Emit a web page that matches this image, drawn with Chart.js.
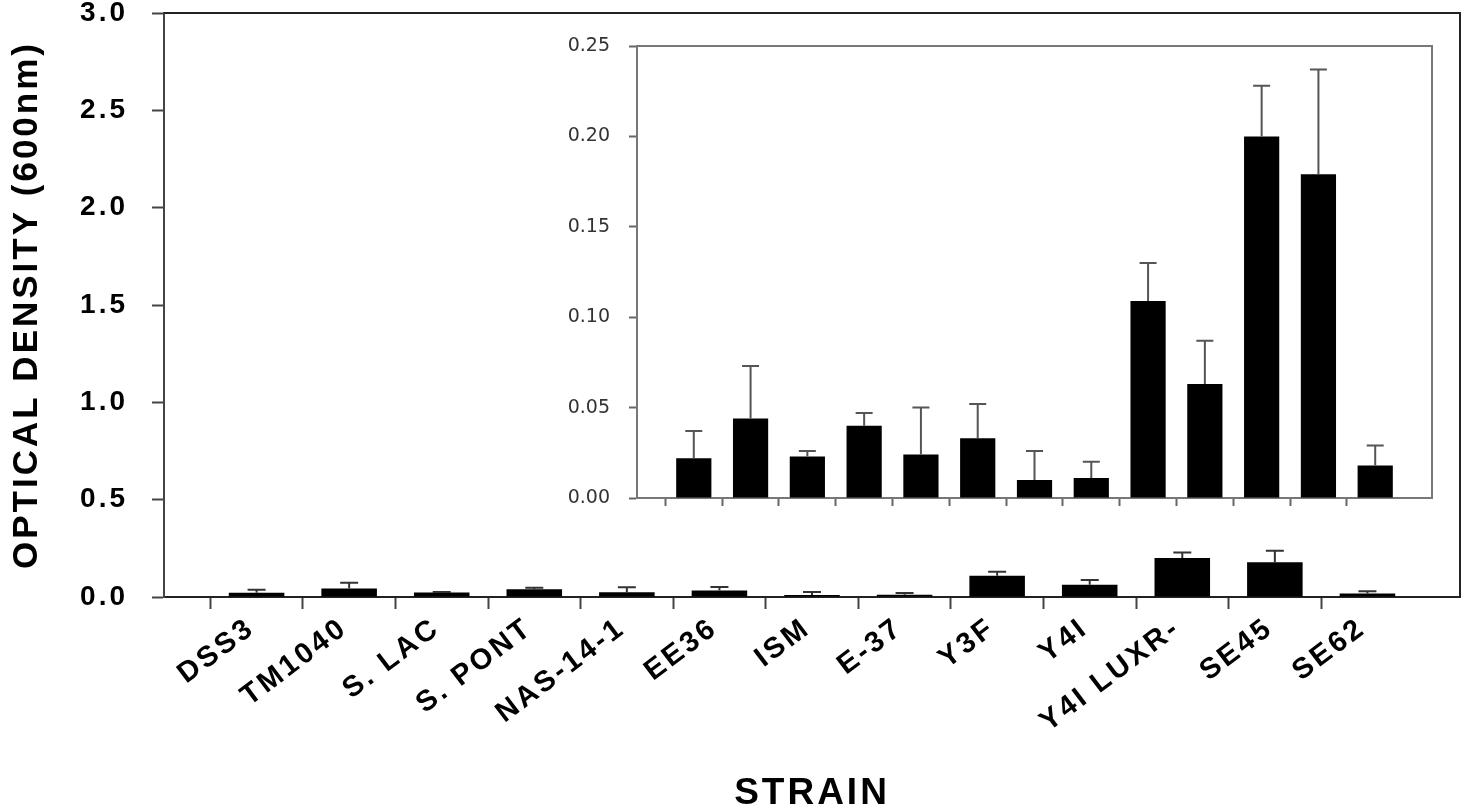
<!DOCTYPE html>
<html>
<head>
<meta charset="utf-8">
<script src="https://cdn.jsdelivr.net/npm/chart.js@4.4.0/dist/chart.umd.min.js"></script>
<style>
  body { margin: 0; background: #fff; }
  #wrap { position: relative; width: 1462px; height: 812px; }
  #main { position: absolute; left: 0; top: 0; }
  #inset { position: absolute; left: 540px; top: 30px; }
</style>
</head>
<body>
<div id="wrap">
  <canvas id="main" width="1462" height="812"></canvas>
  <canvas id="inset" width="920" height="490"></canvas>
</div>
<script>
const strains = ['DSS3', 'TM1040', 'S. LAC', 'S. PONT', 'NAS-14-1', 'EE36', 'ISM', 'E-37', 'Y3F', 'Y4I', 'Y4I LUXR-', 'SE45', 'SE62'];
const od600 = [0.022, 0.044, 0.023, 0.040, 0.024, 0.033, 0.010, 0.011, 0.109, 0.063, 0.200, 0.179, 0.018];
const odErr = [0.015, 0.029, 0.003, 0.007, 0.026, 0.019, 0.016, 0.009, 0.021, 0.024, 0.028, 0.058, 0.011];
const mainTicks = [0, 0.5, 1.0, 1.5, 2.0, 2.5, 3.0];
const insetTicks = [0, 0.05, 0.10, 0.15, 0.20, 0.25];

// one empty slot at each end, like the original plot
const labels = [''].concat(strains, ['']);
const values = [null].concat(od600, [null]);

const errorBars = {
  id: 'errorBars',
  afterDatasetsDraw(chart, args, opts) {
    const ctx = chart.ctx;
    const y = chart.scales.y;
    const meta = chart.getDatasetMeta(0);
    ctx.save();
    ctx.strokeStyle = opts.color;
    ctx.lineWidth = opts.width;
    meta.data.forEach((bar, i) => {
      if (values[i] == null) return;
      const top = y.getPixelForValue(values[i] + odErr[i - 1]);
      ctx.beginPath();
      ctx.moveTo(bar.x, bar.y);
      ctx.lineTo(bar.x, top);
      ctx.moveTo(bar.x - opts.cap / 2, top);
      ctx.lineTo(bar.x + opts.cap / 2, top);
      ctx.stroke();
    });
    ctx.restore();
  }
};

const frame = {
  id: 'frame',
  beforeDraw(chart, args, opts) {
    chart.ctx.letterSpacing = opts.spacing;
  },
  afterDraw(chart, args, opts) {
    const a = chart.chartArea;
    const ctx = chart.ctx;
    ctx.save();
    ctx.strokeStyle = opts.color;
    ctx.lineWidth = 2;
    ctx.beginPath();
    ctx.moveTo(a.left, a.top);
    ctx.lineTo(a.right, a.top);
    ctx.lineTo(a.right, a.bottom);
    ctx.stroke();
    ctx.restore();
  }
};

const hideEnds = (ctx, color) => (ctx.index === 0 || ctx.index === labels.length - 1) ? 'rgba(0,0,0,0)' : color;

// fix the box of an axis and drop the extra room it asks for around its labels
const fixBox = (size) => (s) => {
  if (s.isHorizontal()) s.height = size; else s.width = size;
  s.paddingTop = 0; s.paddingBottom = 0; s.paddingLeft = 0; s.paddingRight = 0;
};

new Chart(document.getElementById('main'), {
  type: 'bar',
  data: {
    labels: labels,
    datasets: [{ data: values, backgroundColor: '#000', categoryPercentage: 0.6, barPercentage: 1 }]
  },
  options: {
    responsive: false,
    animation: false,
    layout: { padding: { left: 0, top: 13, right: 2, bottom: 0 } },
    plugins: {
      legend: { display: false },
      tooltip: { enabled: false },
      errorBars: { color: '#333', width: 2, cap: 18 },
      frame: { color: '#222', spacing: '3px' }
    },
    scales: {
      x: {
        offset: false,
        afterFit: fixBox(215),
        border: { color: '#222', width: 2 },
        grid: { drawOnChartArea: false, tickLength: 12, tickWidth: 2, tickColor: (c) => hideEnds(c, '#444') },
        ticks: { minRotation: 37, maxRotation: 37, autoSkip: false, padding: 2, labelOffset: -5, color: '#000',
          font: { family: 'Liberation Sans', weight: 'bold', size: 29 } },
        title: { display: true, text: 'STRAIN', color: '#000', padding: 0,
          font: { family: 'Liberation Sans', weight: 'bold', size: 37, lineHeight: 1 } }
      },
      y: {
        min: 0, max: 3,
        afterFit: fixBox(164),
        afterBuildTicks: (s) => { s.ticks = mainTicks.map(v => ({ value: v })); },
        border: { color: '#444', width: 2 },
        grid: { drawOnChartArea: false, tickLength: 12, tickWidth: 2, tickColor: '#444' },
        ticks: { padding: 24, color: '#000', callback: (v) => v.toFixed(1),
          font: { family: 'Liberation Sans', weight: 'bold', size: 28 } },
        title: { display: true, text: 'OPTICAL DENSITY (600nm)', color: '#000', padding: { top: 10 },
          font: { family: 'Liberation Sans', weight: 'bold', size: 35, lineHeight: 1 } }
      }
    }
  },
  plugins: [errorBars, frame]
});

new Chart(document.getElementById('inset'), {
  type: 'bar',
  data: {
    labels: labels,
    datasets: [{ data: values, backgroundColor: '#000', categoryPercentage: 0.62, barPercentage: 1 }]
  },
  options: {
    responsive: false,
    animation: false,
    layout: { padding: { left: 0, top: 16, right: 28, bottom: 0 } },
    plugins: {
      legend: { display: false },
      tooltip: { enabled: false },
      errorBars: { color: '#555', width: 2, cap: 17 },
      frame: { color: '#777', spacing: '0px' }
    },
    scales: {
      x: {
        offset: false,
        afterFit: fixBox(22),
        border: { color: '#777', width: 2 },
        grid: { drawOnChartArea: false, tickLength: 8, tickWidth: 2, tickColor: (c) => hideEnds(c, '#666') },
        ticks: { display: false }
      },
      y: {
        min: 0, max: 0.25,
        afterFit: fixBox(97),
        afterBuildTicks: (s) => { s.ticks = insetTicks.map(v => ({ value: v })); },
        border: { color: '#777', width: 2 },
        grid: { drawOnChartArea: false, tickLength: 8, tickWidth: 2, tickColor: '#666' },
        ticks: { padding: 19, color: '#333', callback: (v) => v.toFixed(2),
          font: { family: 'DejaVu Sans', size: 19 } }
      }
    }
  },
  plugins: [errorBars, frame]
});
</script>
</body>
</html>
